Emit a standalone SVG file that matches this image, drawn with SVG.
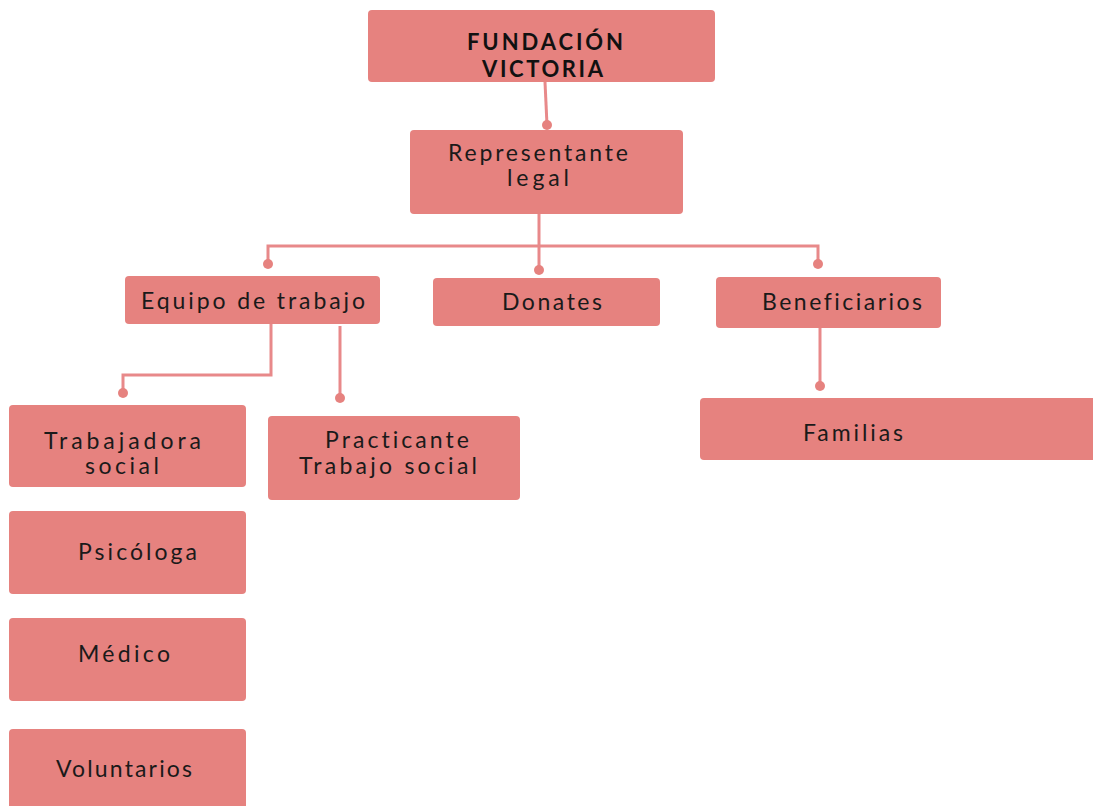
<svg xmlns="http://www.w3.org/2000/svg" width="1093" height="806" viewBox="0 0 1093 806">
<style>
.box{fill:#E6827F;}
.t{font-family:Lato,"Liberation Sans",sans-serif;font-size:23px;fill:#1a1a1a;font-variant-ligatures:none;}
.b{font-family:Lato,"Liberation Sans",sans-serif;font-size:22px;font-weight:bold;fill:#111;}
.ln{fill:none;stroke:#E8898A;stroke-width:3;}
.dot{fill:#E6827F;}
</style>
<rect width="1093" height="806" fill="#fff"/>
<g id="connectors">
<path class="ln" d="M545 82 L547 125"/>
<circle class="dot" cx="547" cy="125" r="5"/>
<path class="ln" d="M539 214 L539 270"/>
<circle class="dot" cx="539" cy="270" r="5"/>
<path class="ln" d="M268 264 L268 246 L818 246 L818 264"/>
<circle class="dot" cx="268" cy="264" r="5"/>
<circle class="dot" cx="818" cy="264" r="5"/>
<path class="ln" d="M271 324 L271 375 L123 375 L123 393"/>
<circle class="dot" cx="123" cy="393" r="5"/>
<path class="ln" d="M340 326 L340 398"/>
<circle class="dot" cx="340" cy="398" r="5"/>
<path class="ln" d="M820 328 L820 386"/>
<circle class="dot" cx="820" cy="386" r="5"/>
</g>
<g id="fundacion">
<rect class="box" x="368" y="10" width="347" height="72" rx="4"/>
<text class="b" x="467" y="50" textLength="156">FUNDACIÓN</text>
<text class="b" x="482" y="77" textLength="121">VICTORIA</text>
</g>
<g id="representante">
<rect class="box" x="410" y="130" width="273" height="84" rx="4"/>
<text class="t" x="448" y="161" textLength="180">Representante</text>
<text class="t" x="507" y="186" textLength="62">legal</text>
</g>
<g id="equipo">
<rect class="box" x="125" y="276" width="255" height="48" rx="4"/>
<text class="t" x="141" y="309" textLength="224">Equipo de trabajo</text>
</g>
<g id="donates">
<rect class="box" x="433" y="278" width="227" height="48" rx="4"/>
<text class="t" x="502" y="310" textLength="100">Donates</text>
</g>
<g id="beneficiarios">
<rect class="box" x="716" y="277" width="225" height="51" rx="4"/>
<text class="t" x="762" y="310" textLength="160">Beneficiarios</text>
</g>
<g id="trabajadora">
<rect class="box" x="9" y="405" width="237" height="82" rx="4"/>
<text class="t" x="44" y="449" textLength="157">Trabajadora</text>
<text class="t" x="85" y="474" textLength="74">social</text>
</g>
<g id="practicante">
<rect class="box" x="268" y="416" width="252" height="84" rx="4"/>
<text class="t" x="325" y="448" textLength="144">Practicante</text>
<text class="t" x="299" y="474" textLength="178">Trabajo social</text>
</g>
<g id="familias">
<rect class="box" x="700" y="398" width="400" height="62" rx="4"/>
<text class="t" x="803" y="441" textLength="100">Familias</text>
</g>
<g id="psicologa">
<rect class="box" x="9" y="511" width="237" height="83" rx="4"/>
<text class="t" x="78" y="560" textLength="119">Psicóloga</text>
</g>
<g id="medico">
<rect class="box" x="9" y="618" width="237" height="83" rx="4"/>
<text class="t" x="78" y="662" textLength="92">Médico</text>
</g>
<g id="voluntarios">
<rect class="box" x="9" y="729" width="237" height="90" rx="4"/>
<text class="t" x="56" y="777" textLength="136">Voluntarios</text>
</g>
</svg>
